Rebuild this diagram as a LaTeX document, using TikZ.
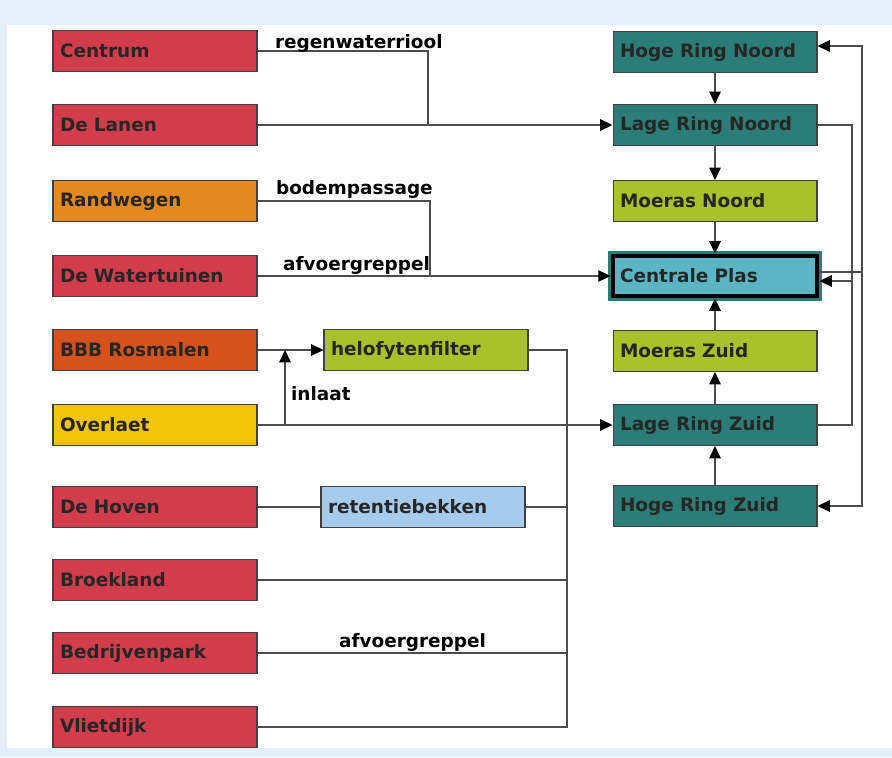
\documentclass[tikz,border=0pt]{standalone}
\usepackage{fontspec}
\setmainfont{DejaVu Sans}
\usetikzlibrary{positioning, arrows.meta}
\usepackage{xcolor}
\definecolor{Rood}{RGB}{209, 61, 75}
\definecolor{Oranje}{RGB}{227, 137, 31}
\definecolor{RoodOranje}{RGB}{213, 82, 31}
\definecolor{Geel}{RGB}{242, 196, 12}
\definecolor{Groen}{RGB}{169, 193, 43}
\definecolor{LichtBlauw}{RGB}{166, 203, 235}
\definecolor{Ring}{RGB}{44, 124, 120}
\definecolor{Plas}{RGB}{91, 181, 194}
\definecolor{Kader}{RGB}{227, 239, 250}

\begin{document}
\begin{tikzpicture}[x=0.02cm, y=-0.02cm]
        \tikzstyle{gebied} = [rectangle, draw=black!75, line width=0.6pt,
          minimum height=0.82cm, text width=3.8cm, inner xsep=0.14cm, align=left,
          font=\fontsize{10.5}{12}\selectfont\bfseries, text=black!85]
        \tikzstyle{leiding} = [draw=black!70, line width=0.85pt]
        \tikzstyle{pijl} = [leiding, -{Triangle[length=7pt, width=6.5pt, color=black]}]
        \tikzstyle{tekst} = [font=\fontsize{10.5}{12}\selectfont\bfseries, inner sep=1pt, anchor=west]

        \useasboundingbox (0,0) rectangle (892,757);
        \fill[Kader] (0,0) rectangle (892,757);
        \fill[white] (7,25) rectangle (892,748);

        % wijken
        \foreach \id/\naam/\kleur/\y in {centrum/Centrum/Rood/51, lanen/De Lanen/Rood/125,
            randwegen/Randwegen/Oranje/201, watertuinen/De Watertuinen/Rood/276,
            bbb/BBB Rosmalen/RoodOranje/350, overlaet/Overlaet/Geel/425,
            hoven/De Hoven/Rood/507, broekland/Broekland/Rood/580,
            bedrijven/Bedrijvenpark/Rood/653, vlietdijk/Vlietdijk/Rood/727}
          \node[gebied, fill=\kleur] (\id) at (155, \y) {\naam};

        \node[gebied, fill=Groen] (helofyt) at (426, 350) {helofytenfilter};
        \node[gebied, fill=LichtBlauw] (retentie) at (423, 507) {retentiebekken};

        % ringen en moerassen
        \foreach \id/\naam/\kleur/\y in {hrn/Hoge Ring Noord/Ring/52, lrn/Lage Ring Noord/Ring/125,
            mn/Moeras Noord/Groen/201, mz/Moeras Zuid/Groen/351,
            lrz/Lage Ring Zuid/Ring/425, hrz/Hoge Ring Zuid/Ring/506}
          \node[gebied, fill=\kleur] (\id) at (715, \y) {\naam};

        \node[gebied, fill=Plas, draw=black, line width=2.8pt, minimum height=0.8cm,
          preaction={draw=Ring, line width=6.2pt}] (plas) at (715, 276) {Centrale Plas};

        % aanvoer links
        \coordinate (regen) at (428, 125);
        \coordinate (bodem) at (430, 276);
        \coordinate (inlaat) at (285, 425);
        \coordinate (greppel) at (567, 727);
        \draw[leiding] (centrum.east) -| (regen);
        \draw[pijl] (lanen) -- (lrn);
        \draw[leiding] (randwegen.east) -| (bodem);
        \draw[pijl] (watertuinen) -- (plas);
        \draw[pijl] (bbb) -- (helofyt);
        \draw[pijl] (overlaet) -- (lrz);
        \draw[pijl] (inlaat) -- (inlaat |- bbb.east);
        \draw[leiding] (helofyt.east) -| (greppel) -- (vlietdijk.east);
        \draw[leiding] (hoven) -- (retentie);
        \draw[leiding] (retentie.east) -- (retentie.east -| greppel);
        \draw[leiding] (broekland.east) -- (broekland.east -| greppel);
        \draw[leiding] (bedrijven.east) -- (bedrijven.east -| greppel);

        % kolom rechts
        \draw[pijl] (hrn) -- (lrn);
        \draw[pijl] (lrn) -- (mn);
        \draw[pijl] (mn) -- (plas);
        \draw[pijl] (mz) -- (plas);
        \draw[pijl] (lrz) -- (mz);
        \draw[pijl] (hrz) -- (lrz);

        % circulatie
        \coordinate (terug) at (852, 425);
        \coordinate (p1) at (852, 281);
        \coordinate (p2) at (862, 272);
        \draw[leiding] (lrn.east) -| (terug) -- (lrz.east);
        \draw[pijl] (p1) -- (p1 -| plas.east);
        \draw[leiding] (p2 -| plas.east) -- (p2);
        \draw[pijl] (p2) |- ([yshift=0.12cm]hrn.east);
        \draw[pijl] (p2) |- (hrz.east);

        \node[tekst] (tregen) at (273, 43) {regenwaterriool};
        \node[tekst] (tbodem) at (274, 189) {bodempassage};
        \node[tekst] (tgreppel) at (281, 265) {afvoergreppel};
        \node[tekst] (tinlaat) at (289, 394) {inlaat};
        \node[tekst] (tgreppel2) at (337, 642) {afvoergreppel};
      \end{tikzpicture}
\end{document}
